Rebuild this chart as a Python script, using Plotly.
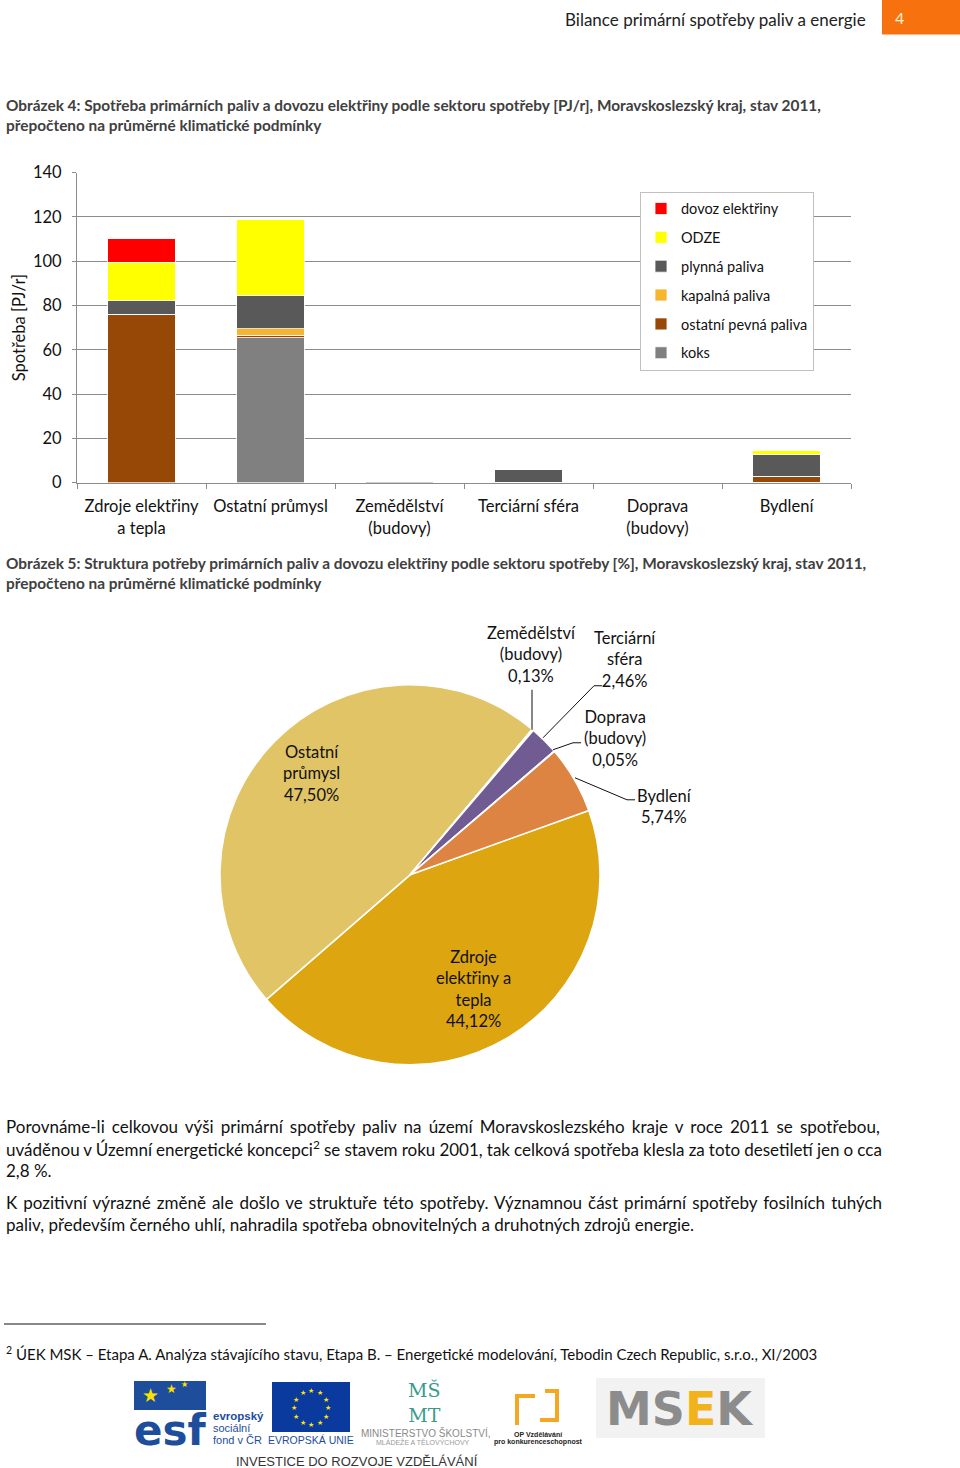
import math
import plotly.graph_objects as go

W, H = 960, 1468
FONT = "Lato, 'Open Sans', sans-serif"

# ---------------- data ----------------
categories = ["Zdroje elektřiny<br>a tepla", "Ostatní průmysl", "Zemědělství<br>(budovy)",
              "Terciární sféra", "Doprava<br>(budovy)", "Bydlení"]

series_names = ["koks", "ostatní pevná paliva", "kapalná paliva", "plynná paliva", "ODZE", "dovoz elektřiny"]
koks = [0.0, 65.5, 0.0, 0.0, 0.0, 0.3]
ostatni_pevna = [76.0, 1.0, 0.0, 0.0, 0.0, 2.4]
kapalna = [0.0, 3.0, 0.05, 0.1, 0.125, 0.3]
plynna = [6.2, 15.1, 0.28, 5.9, 0.0, 9.6]
odze = [17.3, 34.2, 0.0, 0.15, 0.0, 1.8]
dovoz = [10.7, 0.0, 0.0, 0.0, 0.0, 0.0]
series_values = [koks, ostatni_pevna, kapalna, plynna, odze, dovoz]
series_colors = ["#808080", "#974806", "#F7B52B", "#595959", "#FFFF00", "#FF0000"]

y_ticks = [0, 20, 40, 60, 80, 100, 120, 140]

pie_labels = ["Zdroje elektřiny a tepla", "Ostatní průmysl", "Zemědělství (budovy)",
              "Terciární sféra", "Doprava (budovy)", "Bydlení"]
pie_values = [44.12, 47.50, 0.13, 2.46, 0.05, 5.74]
pie_colors = ["#DDA50F", "#E0C466", "#4A6AA8", "#715B93", "#9BBB59", "#DD8443"]

# page offset / scale correction measured on the rendered page
Y_OFF, Y_SCALE = 10.5, 0.986


def X(px):
    return px / W


def Y(py):
    return 1 - ((py - Y_OFF) / Y_SCALE) / H


fig = go.Figure()

n = len(series_names)
for i, (name, vals, col) in enumerate(zip(series_names, series_values, series_colors)):
    fig.add_trace(go.Bar(
        x=categories, y=vals, name=name, legendgroup=name, legendrank=n - i,
        marker=dict(color=col, line=dict(color="white", width=0.8)),
        hoverinfo="skip",
    ))

fig.add_trace(go.Pie(
    labels=pie_labels, values=pie_values, sort=False, direction="clockwise",
    rotation=70.2, textinfo="none", hoverinfo="skip", showlegend=False,
    marker=dict(colors=pie_colors, line=dict(color="white", width=1.5)),
    domain=dict(x=[X(220), X(600)], y=[Y(1065), Y(685)]),
))

axis_col = "#8C8C8C"
fig.update_layout(
    width=W, height=H, margin=dict(l=0, r=0, t=0, b=0),
    paper_bgcolor="white", plot_bgcolor="white",
    font=dict(family=FONT, size=16.5, color="#111111"),
    barmode="stack", bargap=0.48,
    xaxis=dict(domain=[X(77), X(851)], type="category", tickson="boundaries",
               ticks="outside", ticklen=5, tickcolor=axis_col, showline=True,
               linecolor=axis_col, showgrid=False, ticklabelstandoff=9,
               tickfont=dict(size=16.5, color="#111111")),
    yaxis=dict(domain=[Y(483), Y(173)], range=[0, 140], tickvals=y_ticks,
               ticks="outside", ticklen=4, tickcolor=axis_col, showline=True,
               linecolor=axis_col, gridcolor=axis_col, gridwidth=1, zeroline=False,
               ticklabelstandoff=7, tickfont=dict(size=16.5, color="#111111"),
               title=dict(text="Spotřeba [PJ/r]", font=dict(size=16.5), standoff=3)),
    legend=dict(x=X(640), y=Y(192), xanchor="left", yanchor="top",
                traceorder="grouped", tracegroupgap=7,
                bgcolor="white", bordercolor="#C0C0C0", borderwidth=1,
                font=dict(size=14.5, color="#111111")),
)

ann = []
shapes = []


def text(px, py, s, size=16.5, color="#111111", xanchor="left", yanchor="middle",
         family=FONT, align="left"):
    ann.append(dict(x=X(px), y=Y(py), xref="paper", yref="paper", text=s,
                    showarrow=False, xanchor=xanchor, yanchor=yanchor, align=align,
                    font=dict(size=size, color=color, family=family)))


# header
shapes.append(dict(type="rect", xref="paper", yref="paper", x0=X(882), x1=X(960),
                   y0=Y(35), y1=Y(0), fillcolor="#F7720F", line=dict(width=0)))
text(899, 18, "4", size=16, color="#FFF2D0", xanchor="center")
text(868, 20, "Bilance primární spotřeby paliv a energie", size=17, color="#222222",
     xanchor="right")

# figure titles
tcol = "#404040"
TS = 15.4
text(4, 105, "<b>Obrázek 4: Spotřeba primárních paliv a dovozu elektřiny podle sektoru spotřeby "
     "[PJ/r], Moravskoslezský kraj, stav 2011,</b>", size=TS, color=tcol)
text(4, 125, "<b>přepočteno na průměrné klimatické podmínky</b>", size=TS, color=tcol)
text(4, 563, "<b>Obrázek 5: Struktura potřeby primárních paliv a dovozu elektřiny podle sektoru "
     "spotřeby [%], Moravskoslezský kraj, stav 2011,</b>", size=TS, color=tcol)
text(4, 583, "<b>přepočteno na průměrné klimatické podmínky</b>", size=TS, color=tcol)

# pie labels
def fmt(v):
    return f"{v:.2f}".replace(".", ",") + "%"


text(311, 774, "Ostatní<br>průmysl<br>" + fmt(pie_values[1]), xanchor="center", align="center")
text(473, 989, "Zdroje<br>elektřiny a<br>tepla<br>" + fmt(pie_values[0]), xanchor="center",
     align="center")
text(531, 655, "Zemědělství<br>(budovy)<br>" + fmt(pie_values[2]), xanchor="center", align="center")
text(625, 660, "Terciární<br>sféra<br>" + fmt(pie_values[3]), xanchor="center", align="center")
text(615, 739, "Doprava<br>(budovy)<br>" + fmt(pie_values[4]), xanchor="center", align="center")
text(664, 807, "Bydlení<br>" + fmt(pie_values[5]), xanchor="center", align="center")


def path(pts, color="#111111", width=1):
    d = "M " + " L ".join(f"{X(a):.5f},{Y(b):.5f}" for a, b in pts)
    shapes.append(dict(type="path", xref="paper", yref="paper", path=d,
                       line=dict(color=color, width=width)))


path([(532, 690), (532, 730)])
path([(602, 686), (594, 686), (543, 738)])
path([(581, 743), (573, 743), (553, 750)])
path([(575, 778), (627, 800), (635, 800)])

# body text (word-spacing emulates the justified lines)
BS = 17
body = [
    (1127, "Porovnáme-li celkovou výši primární spotřeby paliv na území Moravskoslezského kraje v roce 2011 se spotřebou,", 2.8),
    (1149, "uváděnou v Územní energetické koncepci<sup>2</sup> se stavem roku 2001, tak celková spotřeba klesla za toto desetiletí jen o cca", -0.25),
    (1171, "2,8 %.", 0),
    (1203, "K pozitivní výrazné změně ale došlo ve struktuře této spotřeby. Významnou část primární spotřeby fosilních tuhých", 1.7),
    (1225, "paliv, především černého uhlí, nahradila spotřeba obnovitelných a druhotných zdrojů energie.", 0),
]
for py, s, ws in body:
    if ws:
        s = f"<span style='word-spacing:{ws}px'>" + s + "</span>"
    text(4, py, s, size=BS, color="#111111")

# footnote
path([(4, 1324), (266, 1324)], width=1)
text(4, 1353, "<sup>2</sup> ÚEK MSK – Etapa A. Analýza stávajícího stavu, Etapa B. – Energetické "
     "modelování, Tebodin Czech Republic, s.r.o., XI/2003", size=15, color="#111111")

# ---------------- logos (approximate) ----------------
blue = "#1E4D9B"
shapes.append(dict(type="rect", xref="paper", yref="paper", x0=X(134), x1=X(206),
                   y0=Y(1410), y1=Y(1381), fillcolor=blue, line=dict(width=0)))
text(170, 1430, "<b>esf</b>", size=42, color=blue, xanchor="center",
     family="'DejaVu Sans', sans-serif")
text(150, 1394, "★", size=19, color="#FFE100", xanchor="center")
text(171, 1388, "★", size=12, color="#FFE100", xanchor="center")
text(184, 1384, "★", size=8, color="#FFE100", xanchor="center")
text(211, 1416, "<b>evropský</b>", size=11.5, color=blue, family="'Liberation Sans', sans-serif")
text(211, 1428, "sociální", size=11, color=blue, family="'Liberation Sans', sans-serif")
text(211, 1440, "fond v ČR", size=11, color=blue, family="'Liberation Sans', sans-serif")

shapes.append(dict(type="rect", xref="paper", yref="paper", x0=X(272), x1=X(350),
                   y0=Y(1432), y1=Y(1382), fillcolor="#0A3A9E", line=dict(width=0)))
for k in range(12):
    a = 2 * math.pi * k / 12
    text(311 + 17 * math.sin(a), 1407 - 17 * math.cos(a), "★", size=7, color="#FFE600",
         xanchor="center")
text(311, 1440, "EVROPSKÁ UNIE", size=10.5, color=blue, xanchor="center",
     family="'Liberation Sans Narrow', 'Liberation Sans', sans-serif")

teal = "#3A9A8C"
text(424, 1402, "MŠ<br>MT", size=19, color=teal, xanchor="center", align="center",
     family="'DejaVu Serif', serif")
text(425, 1433, "MINISTERSTVO ŠKOLSTVÍ,", size=10, color="#8A8A8A", xanchor="center",
     family="'Liberation Sans', sans-serif")
text(423, 1442, "MLÁDEŽE A TĚLOVÝCHOVY", size=7, color="#9A9A9A", xanchor="center",
     family="'Liberation Sans', sans-serif")

orng = "#F5A623"
path([(517, 1425), (517, 1396), (535, 1396)], color=orng, width=4)
path([(545, 1391), (557, 1391), (557, 1420), (540, 1420)], color=orng, width=4)
text(538, 1434, "<b>OP Vzdělávání</b>", size=7, color="#222222", xanchor="center",
     family="'Liberation Sans', sans-serif")
text(538, 1442, "<b>pro konkurenceschopnost</b>", size=7, color="#222222", xanchor="center",
     family="'Liberation Sans Narrow', 'Liberation Sans', sans-serif")

shapes.append(dict(type="rect", xref="paper", yref="paper", x0=X(596), x1=X(765),
                   y0=Y(1438), y1=Y(1378), fillcolor="#F2F2F2", line=dict(width=0)))
text(680, 1409, "<b>MS<span style='color:#F2B21B'>E</span>K</b>", size=46, color="#8C8C8C",
     xanchor="center", family="'DejaVu Sans', sans-serif")

text(357, 1461, "INVESTICE DO ROZVOJE VZDĚLÁVÁNÍ", size=13, color="#333333",
     xanchor="center", family="'Liberation Sans Narrow', 'Liberation Sans', sans-serif")

fig.update_layout(annotations=ann, shapes=shapes)
fig.write_html("out.html", config={"displayModeBar": False},
               post_script="document.body.style.margin='0px';")
